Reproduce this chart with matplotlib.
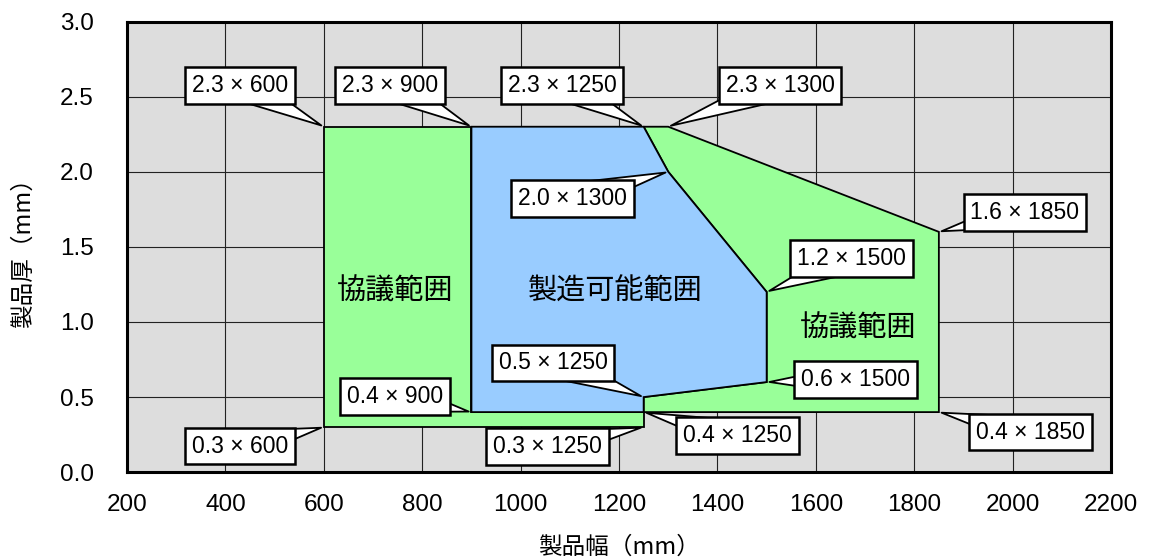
import numpy as np
import matplotlib
matplotlib.use("Agg")
import matplotlib.pyplot as plt

plt.rcParams['font.family'] = ['Liberation Sans', 'Noto Sans CJK JP', 'DejaVu Sans']

# 領域の頂点 (製品幅 mm, 製品厚 mm)
left_w = [600, 600, 900, 900, 1250, 1250]
left_t = [0.3, 2.3, 2.3, 0.4, 0.4, 0.3]

blue_w = [900, 900, 1250, 1300, 1500, 1500, 1250, 1250]
blue_t = [0.4, 2.3, 2.3, 2.0, 1.2, 0.6, 0.5, 0.4]

right_w = [1250, 1850, 1850, 1300, 1250, 1300, 1500, 1500, 1250]
right_t = [0.4, 0.4, 1.6, 2.3, 2.3, 2.0, 1.2, 0.6, 0.5]

# 吹き出しの点 (厚 x 幅)
pt_t = [2.3, 2.3, 2.3, 2.3, 2.0, 1.6, 1.2, 0.6, 0.4, 0.5, 0.4, 0.3, 0.4, 0.3]
pt_w = [600, 900, 1250, 1300, 1300, 1850, 1500, 1500, 1850, 1250, 1250, 1250, 900, 600]

region_names = ['協議範囲', '製造可能範囲', '協議範囲']

xticks = np.arange(200, 2201, 200)
yticks = np.arange(0, 3.01, 0.5)

# 吹き出し箱の位置 (データ座標)
box_x = [430, 735, 1084, 1527, 1105, 2025, 1673, 1681, 2036, 1066, 1441, 1054, 744, 430]
box_y = [2.576, 2.576, 2.576, 2.576, 1.824, 1.731, 1.425, 0.617, 0.267, 0.727, 0.244, 0.171, 0.502, 0.174]
name_x = [745, 1193, 1685]
name_y = [1.2, 1.2, 0.953]

fig = plt.figure(figsize=(11.57, 5.59), dpi=100)
ax = fig.add_axes([0.1098, 0.1553, 0.8505, 0.8061])
ax.set_facecolor('#dddddd')
ax.set_axisbelow(True)
ax.grid(True, color='#222222', lw=0.8)

ax.fill(left_w, left_t, fc='#99ff99', ec='black', lw=1.3, zorder=2)
ax.fill(right_w, right_t, fc='#99ff99', ec='black', lw=1.3, zorder=2)
ax.fill(blue_w, blue_t, fc='#99ccff', ec='black', lw=1.3, zorder=2)

for name, x, y in zip(region_names, name_x, name_y):
    ax.text(x, y, name, fontsize=21, family=['Noto Sans CJK JP'], ha='center', va='center', zorder=3)

for t, w, bx, by in zip(pt_t, pt_w, box_x, box_y):
    ax.annotate('%.1f × %d' % (t, w), xy=(w, t), xytext=(bx, by),
                fontsize=16.5, ha='center', va='center', zorder=5,
                bbox=dict(boxstyle='square,pad=0.3', fc='white', ec='black', lw=1.8),
                arrowprops=dict(arrowstyle='wedge,tail_width=1.3,shrink_factor=0.5',
                                fc='white', ec='black', lw=1.3, patchA=None, shrinkB=2))

ax.set_xlim(200, 2200)
ax.set_ylim(0, 3.0)
ax.set_xticks(xticks)
ax.set_yticks(yticks)
ax.set_yticklabels(['%.1f' % v for v in yticks])
ax.tick_params(axis='both', length=0, labelsize=17.5)
ax.tick_params(axis='x', pad=16)
ax.tick_params(axis='y', pad=24)
for s in ax.spines.values():
    s.set_linewidth(2.2)

ax.set_xlabel('製品幅（mm）', fontsize=17, family=['Noto Sans CJK JP'], labelpad=14)
ax.set_ylabel('製品厚（mm）', fontsize=17, family=['Noto Sans CJK JP'], labelpad=18)

fig.savefig('out.png', dpi=100)
